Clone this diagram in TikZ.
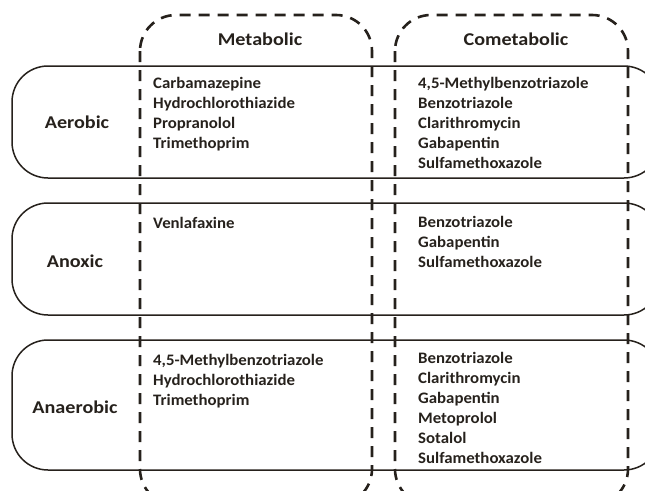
\documentclass[tikz,border=0pt]{standalone}
\usepackage{fontspec}
\setmainfont{Carlito}
\newfontfamily\listfont{Carlito}[FakeStretch=1.05]
\newfontfamily\headfont{Carlito}[FakeStretch=1.12]
\definecolor{ink}{RGB}{38,33,28}
\begin{document}
\begin{tikzpicture}[x=1pt,y=-1pt,
  rowbox/.style={draw=ink,line width=1.5pt,rounded corners=36pt},
  colbox/.style={draw=ink,line width=2.6pt,dash pattern=on 11pt off 8pt,rounded corners=36pt},
  lst/.style={inner sep=0pt,anchor=base west,align=left,text=ink,font=\listfont\bfseries\fontsize{16}{20}\selectfont},
  head/.style={inner sep=0pt,anchor=base,text=ink,font=\headfont\bfseries\fontsize{18}{20}\selectfont}]
\useasboundingbox (0,0) rectangle (645,490);
\clip (0,0) rectangle (645,490);
% row boxes
\draw[rowbox] (12,66) rectangle (660,178);
\draw[rowbox] (12,203) rectangle (660,315);
\draw[rowbox] (12,340) rectangle (660,470);
% column boxes
\draw[colbox] (140,15) rectangle (372,505);
\draw[colbox] (395,15) rectangle (628,505);
% headers
\node[head] (hm) at (260,45) {Metabolic};
\node[head] (hc) at (516,45) {Cometabolic};
\node[head] (ra) at (77,128) {Aerobic};
\node[head] (rb) at (75,267) {Anoxic};
\node[head] (rc) at (75,413) {Anaerobic};
% lists (anchored at the baseline of their last line)
\node[lst] (am) at (153,148) {Carbamazepine\\Hydrochlorothiazide\\Propranolol\\Trimethoprim};
\node[lst] (ac) at (418,168) {4,5-Methylbenzotriazole\\Benzotriazole\\Clarithromycin\\Gabapentin\\Sulfamethoxazole};
\node[lst] (bm) at (153,228) {Venlafaxine};
\node[lst] (bc) at (418,267) {Benzotriazole\\Gabapentin\\Sulfamethoxazole};
\node[lst] (cm) at (153,405) {4,5-Methylbenzotriazole\\Hydrochlorothiazide\\Trimethoprim};
\node[lst] (cc) at (418,463) {Benzotriazole\\Clarithromycin\\Gabapentin\\Metoprolol\\Sotalol\\Sulfamethoxazole};
\end{tikzpicture}
\end{document}
